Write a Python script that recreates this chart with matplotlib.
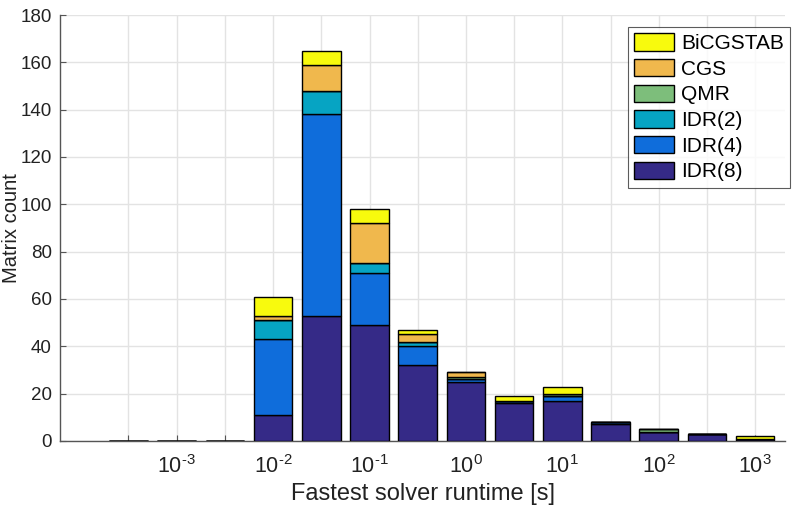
import matplotlib
matplotlib.use("Agg")
import matplotlib.pyplot as plt
import numpy as np

plt.rcParams['font.family'] = ['Liberation Sans', 'DejaVu Sans']
plt.rcParams['mathtext.default'] = 'regular'
plt.rcParams['axes.unicode_minus'] = False

# bin centres in log10(seconds)
log_centers = [-3.5, -3.0, -2.5, -2.0, -1.5, -1.0, -0.5, 0.0, 0.5, 1.0, 1.5, 2.0, 2.5, 3.0]
series_names = ["IDR(8)", "IDR(4)", "IDR(2)", "QMR", "CGS", "BiCGSTAB"]
idr8     = [0, 0, 0, 11, 53, 49, 32, 25, 16, 17, 7, 4, 3, 1]
idr4     = [0, 0, 0, 32, 85, 22,  8,  1,  1,  2, 1, 0, 0, 0]
idr2     = [0, 0, 0,  8, 10,  4,  2,  0,  0,  0, 0, 0, 0, 0]
qmr      = [0, 0, 0,  0,  0,  0,  0,  1,  0,  1, 0, 1, 0, 0]
cgs      = [0, 0, 0,  2, 11, 17,  3,  2,  0,  0, 0, 0, 0, 0]
bicgstab = [0, 0, 0,  8,  6,  6,  2,  0,  2,  3, 0, 0, 0, 1]
colors = ["#352a87", "#0f6ddb", "#06a4c3", "#7dbe7b", "#f0b84d", "#f8fa0d"]

fig = plt.figure(figsize=(7.95, 5.12), dpi=100)
ax = fig.add_axes([0.0755, 0.1387, 0.912, 0.832])

data = [idr8, idr4, idr2, qmr, cgs, bicgstab]
bottom = np.zeros(len(log_centers))
handles = []
for name, vals, c in zip(series_names, data, colors):
    h = ax.bar(log_centers, vals, width=0.4, bottom=bottom, color=c,
               edgecolor='black', linewidth=1.0, label=name, zorder=3)
    handles.append(h)
    bottom += np.array(vals)

ax.set_xlim(-4.21, 3.31)
ax.set_ylim(0, 180)
ax.set_yticks(np.arange(0, 181, 20))
ax.set_xticks(log_centers)
ax.set_xticklabels(['$10^{\u2010%d}$' % abs(int(v)) if (float(v).is_integer() and v < 0)
                    else ('$10^{%d}$' % int(v) if float(v).is_integer() else '')
                    for v in log_centers])

ax.grid(True, color='#e3e3e3', linewidth=1.0, zorder=0)
ax.set_axisbelow(True)
for s in ['top', 'right']:
    ax.spines[s].set_visible(False)
for s in ['left', 'bottom']:
    ax.spines[s].set_color('#555555')
    ax.spines[s].set_linewidth(1.0)
ax.tick_params(direction='in', length=4, color='#555555', labelcolor='#222222')
ax.tick_params(axis='y', labelsize=13.5, pad=6)
ax.tick_params(axis='x', labelsize=15.5, pad=10)

ax.set_xlabel('Fastest solver runtime [s]', fontsize=17, color='#222222', labelpad=4)
ax.set_ylabel('Matrix count', fontsize=14.5, color='#222222')
ax.yaxis.set_label_coords(-0.054, 0.5)

leg = ax.legend(handles[::-1], series_names[::-1], loc='upper right',
                bbox_to_anchor=(790 / 795, 1 - 27 / 512), bbox_transform=fig.transFigure,
                fontsize=15, frameon=True, fancybox=False, edgecolor='#333333',
                handlelength=1.9, handleheight=0.9, labelspacing=0.28, borderpad=0.3,
                handletextpad=0.35, borderaxespad=0.0)
leg.get_frame().set_linewidth(0.8)

fig.savefig('out.png', dpi=100)
